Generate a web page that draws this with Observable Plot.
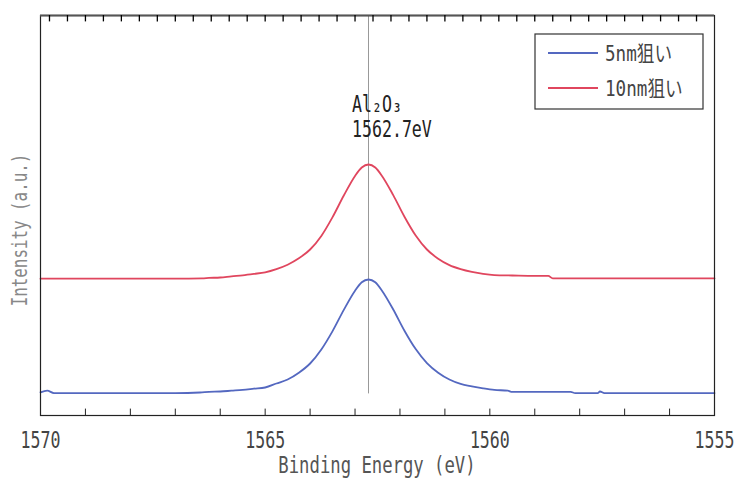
<!DOCTYPE html>
<html>
<head>
<meta charset="utf-8">
<script src="https://cdn.jsdelivr.net/npm/d3@7"></script>
<script src="https://cdn.jsdelivr.net/npm/@observablehq/plot@0.6"></script>
<style>
  html, body { margin: 0; padding: 0; background: #fff; }
  svg { display: block; }
</style>
</head>
<body>
<script>
// ---- data ----
const seriesNames = ["5nm狙い", "10nm狙い"];
const seriesColors = ["#5468c0", "#e0465e"];

const energy5nm = [1570, 1569.85, 1569.7, 1569, 1568, 1567, 1566.45, 1566.25, 1566, 1565.75, 1565.5, 1565.25, 1565,
  1564.75, 1564.5, 1564.25, 1564, 1563.75, 1563.5, 1563.25, 1563, 1562.85, 1562.7, 1562.55, 1562.4, 1562.15,
  1561.9, 1561.65, 1561.4, 1561.15, 1560.9, 1560.65, 1560.4, 1560.15, 1559.9, 1559.6, 1559.5, 1558.2, 1558.1,
  1557.6, 1557.55, 1557.45, 1556, 1555];
const intensity5nm = [5.8, 6.2, 5.6, 5.6, 5.6, 5.6, 5.75, 5.9, 6.0, 6.2, 6.4, 6.7, 7.0,
  8.0, 9.0, 10.7, 13.0, 16.5, 21.1, 26.4, 31.2, 33.3, 34.0, 33.3, 31.2, 26.5,
  21.2, 16.6, 13.1, 10.7, 9.0, 7.9, 7.3, 6.8, 6.4, 6.2, 5.9, 5.9, 5.6,
  5.6, 6.0, 5.6, 5.6, 5.6];

const energy10nm = [1570, 1569, 1568, 1567, 1566.4, 1566.25, 1566, 1565.75, 1565.5, 1565.25, 1565,
  1564.75, 1564.5, 1564.25, 1564, 1563.75, 1563.5, 1563.25, 1563, 1562.85, 1562.7, 1562.55, 1562.4, 1562.15,
  1561.9, 1561.65, 1561.4, 1561.15, 1560.9, 1560.65, 1560.4, 1560.15, 1559.9, 1559.5, 1559, 1558.7, 1558.6,
  1557, 1556, 1555];
const intensity10nm = [34.2, 34.2, 34.2, 34.2, 34.3, 34.4, 34.5, 34.8, 35.05, 35.4, 35.8,
  36.6, 37.7, 39.3, 41.5, 44.9, 49.6, 55.0, 59.9, 62.0, 62.75, 62.0, 59.9, 55.1,
  49.7, 45.0, 41.5, 39.2, 37.6, 36.6, 35.9, 35.4, 35.1, 35.0, 34.9, 34.9, 34.3,
  34.3, 34.3, 34.3];

const peakEnergy = 1562.7;
const peakLabelLines = ["Al₂O₃", "1562.7eV"];
const xLabelTicks = [1570, 1565, 1560, 1555];
const xMinorTicks = [1570, 1569, 1568, 1567, 1566, 1565, 1564, 1563, 1562, 1561, 1560, 1559, 1558, 1557, 1556, 1555];
const xTopTicks = [1569.8, 1569.4, 1569.0, 1568.6, 1568.2, 1567.8, 1567.4, 1567.0, 1566.6, 1566.2,
  1565.8, 1565.4, 1565.0, 1564.6, 1564.2, 1563.8, 1563.4, 1563.0, 1562.6, 1562.2,
  1561.8, 1561.4, 1561.0, 1560.6, 1560.2, 1559.8, 1559.4, 1559.0, 1558.6, 1558.2,
  1557.8, 1557.4, 1557.0, 1556.6, 1556.2, 1555.8, 1555.4];
const xTitle = "Binding Energy (eV)";
const yTitle = "Intensity (a.u.)";

const rows5 = energy5nm.map((e, i) => ({energy: e, intensity: intensity5nm[i], series: seriesNames[0]}));
const rows10 = energy10nm.map((e, i) => ({energy: e, intensity: intensity10nm[i], series: seriesNames[1]}));

const W = 738, H = 479;
const M = {left: 40, right: 24, top: 15, bottom: 64};
const FONT = "'DejaVu Sans Mono', 'Noto Sans CJK JP', monospace";
const yTop = 100, tickLen = 1.6; // tick length in y units (1 unit = 4px)

const chart = Plot.plot({
  width: W, height: H,
  marginLeft: M.left, marginRight: M.right, marginTop: M.top, marginBottom: M.bottom,
  style: {fontFamily: FONT, background: "#fff"},
  x: {domain: [1570, 1555]},
  y: {domain: [0, yTop], axis: null},
  marks: [
    Plot.ruleX([peakEnergy], {y1: d3.min(intensity5nm) - 0.2, y2: yTop, stroke: "#999", strokeWidth: 1}),
    Plot.line(rows5, {x: "energy", y: "intensity", stroke: seriesColors[0], strokeWidth: 1.8, curve: "monotone-x"}),
    Plot.line(rows10, {x: "energy", y: "intensity", stroke: seriesColors[1], strokeWidth: 1.8, curve: "monotone-x"}),
    Plot.frame({stroke: "#222", strokeWidth: 1.2}),
    Plot.ruleY([yTop], {stroke: "#555", strokeWidth: 2}),
    Plot.ruleX(xTopTicks, {y1: yTop - tickLen, y2: yTop, stroke: "#000", strokeWidth: 1.3}),
    Plot.ruleX(xMinorTicks, {y1: 0, y2: tickLen, stroke: "#222", strokeWidth: 1}),
    Plot.axisX({anchor: "bottom", ticks: xLabelTicks, tickSize: 0, tickPadding: 16, fontSize: 23,
      tickFormat: d => String(d), fill: "#444", label: null})
  ]
});
document.body.append(chart);

// horizontally condense text (reference uses a tall, narrow typeface)
function condense(node, s) {
  const L = node.getComputedTextLength();
  if (L > 0) {
    node.setAttribute("textLength", (L * s).toFixed(1));
    node.setAttribute("lengthAdjust", "spacingAndGlyphs");
  }
}
const svg = d3.select(chart);
svg.selectAll("text").each(function () { condense(this, 0.72); });

const xs = chart.scale("x");
const plotLeft = M.left, plotRight = W - M.right, plotBottom = H - M.bottom;

function addText(parent, t, attrs, size, fill, anchor, s) {
  const el = parent.append("text")
    .attr("text-anchor", anchor)
    .style("font-family", FONT).style("font-size", size + "px").attr("fill", fill)
    .text(t);
  for (const k in attrs) el.attr(k, attrs[k]);
  condense(el.node(), s);
  return el;
}

// axis titles
addText(svg, xTitle, {x: (plotLeft + plotRight) / 2, y: plotBottom + 58}, 23, "#555", "middle", 0.75);
addText(svg, yTitle, {transform: "translate(27,230) rotate(-90)"}, 22, "#888", "middle", 0.72);

// peak annotation
peakLabelLines.forEach((t, i) => {
  addText(svg, t, {x: xs.apply(peakEnergy) - 16, y: 112 + i * 25}, 23, "#222", "start", 0.72);
});

// legend
const lg = svg.append("g").attr("transform", `translate(${plotRight - 179},34)`);
lg.append("rect").attr("width", 168).attr("height", 75).attr("fill", "#fff").attr("stroke", "#333").attr("stroke-width", 1.2);
seriesNames.forEach((name, i) => {
  const y = 19 + i * 35;
  lg.append("line").attr("x1", 13).attr("x2", 63).attr("y1", y).attr("y2", y)
    .attr("stroke", seriesColors[i]).attr("stroke-width", 1.8);
  addText(lg, name, {x: 70, y: y + 8}, 22, "#444", "start", 0.8);
});
</script>
</body>
</html>
